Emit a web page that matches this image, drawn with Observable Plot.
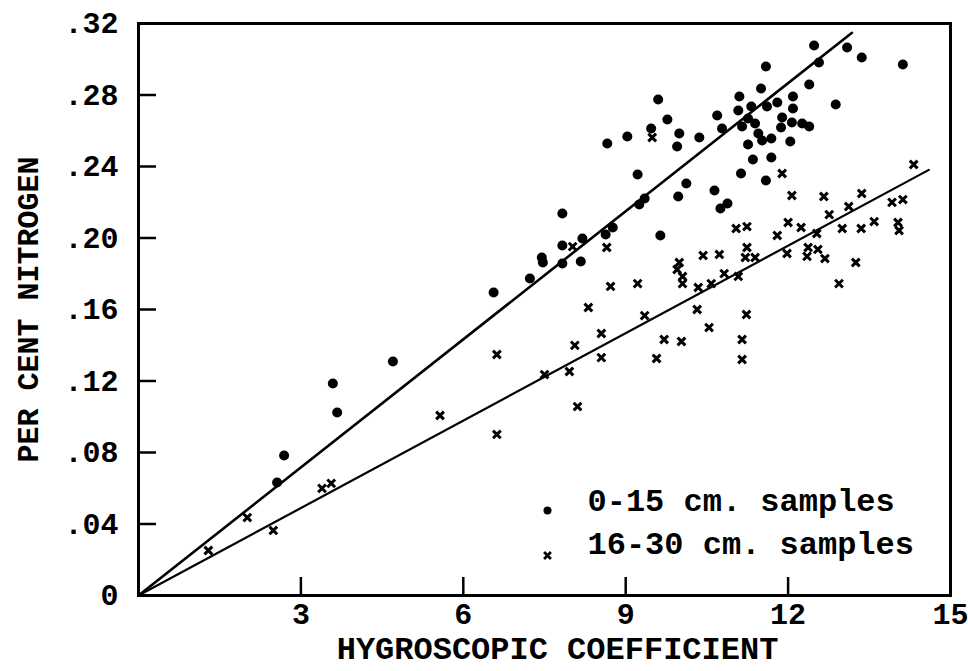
<!DOCTYPE html>
<html>
<head>
<meta charset="utf-8">
<script src="https://cdn.jsdelivr.net/npm/d3@7"></script>
<script src="https://cdn.jsdelivr.net/npm/@observablehq/plot@0.6"></script>
<style>
  html, body { margin: 0; padding: 0; background: #fff; }
  #chart { width: 968px; height: 671px; }
</style>
</head>
<body>
<div id="chart"></div>
<script>
// ---- data ----
const surfaceX = [12.48,13.09,13.36,14.12,12.57,11.59,12.39,11.50,11.10,12.09,12.88,9.60,11.08,11.32,11.61,11.80,12.09,10.69,9.77,11.89,11.26,11.15,11.39,11.87,12.07,12.26,12.39,9.47,9.99,10.78,9.03,10.36,9.95,8.66,11.45,11.52,11.69,11.26,12.04,11.69,11.35,11.13,11.59,9.22,10.12,10.64,9.97,10.88,10.75,7.83,9.25,9.35,8.76,8.63,9.64,8.20,7.83,7.45,7.83,8.17,7.47,7.23,6.56,4.70,3.59,3.67,2.69,2.56];
const surfaceY = [0.3077,0.3066,0.3010,0.2971,0.2982,0.2959,0.2859,0.2836,0.2792,0.2792,0.2747,0.2775,0.2713,0.2736,0.2736,0.2758,0.2724,0.2685,0.2663,0.2674,0.2669,0.2624,0.2641,0.2618,0.2646,0.2641,0.2624,0.2613,0.2585,0.2613,0.2568,0.2562,0.2512,0.2529,0.2585,0.2545,0.2557,0.2523,0.2540,0.2450,0.2439,0.2361,0.2322,0.2355,0.2305,0.2266,0.2232,0.2193,0.2165,0.2137,0.2187,0.2221,0.2059,0.2020,0.2014,0.1997,0.1958,0.1891,0.1857,0.1869,0.1863,0.1773,0.1695,0.1309,0.1186,0.1024,0.0783,0.0632];

const subsoilX = [11.89,14.32,12.07,12.66,13.36,13.92,14.12,12.76,13.12,11.04,11.24,12.00,12.24,11.80,12.53,13.00,13.35,13.59,14.03,14.05,11.24,12.37,12.55,10.43,10.73,11.21,11.39,11.98,12.35,12.68,13.25,9.99,9.95,10.05,10.05,8.72,9.22,10.34,10.58,10.82,11.08,12.94,8.31,9.35,8.55,8.06,8.55,7.96,7.50,8.11,10.32,10.54,9.71,10.03,9.57,11.23,11.15,11.15,8.02,8.65,9.49,6.62,6.62,5.57,3.39,3.56,2.01,2.49,1.29];
const subsoilY = [0.2361,0.2411,0.2238,0.2232,0.2249,0.2199,0.2215,0.2131,0.2176,0.2053,0.2064,0.2087,0.2059,0.2014,0.2025,0.2053,0.2053,0.2092,0.2087,0.2042,0.1947,0.1947,0.1936,0.1902,0.1908,0.1891,0.1891,0.1913,0.1897,0.1885,0.1863,0.1863,0.1824,0.1785,0.1745,0.1729,0.1745,0.1723,0.1745,0.1801,0.1785,0.1745,0.1611,0.1566,0.1466,0.1399,0.1331,0.1253,0.1236,0.1057,0.1600,0.1499,0.1432,0.1421,0.1326,0.1572,0.1432,0.1320,0.1952,0.1947,0.2562,0.1348,0.0901,0.1007,0.0599,0.0627,0.0436,0.0364,0.0252];

// fitted lines (end points)
const surfaceLineX = [0, 13.18];
const surfaceLineY = [0, 0.3148];
const subsoilLineX = [0, 14.6];
const subsoilLineY = [0, 0.2381];

const xTicks = [3, 6, 9, 12, 15];
const xTickLabels = ["3", "6", "9", "12", "15"];
const yTicks = [0, 0.04, 0.08, 0.12, 0.16, 0.20, 0.24, 0.28, 0.32];
const yTickLabels = ["0", ".04", ".08", ".12", ".16", ".20", ".24", ".28", ".32"];

const xLabel = "HYGROSCOPIC COEFFICIENT";
const yLabel = "PER CENT NITROGEN";
const legendLabels = ["0-15 cm. samples", "16-30 cm. samples"];

// ---- build tables ----
const surface = surfaceX.map((x, i) => ({x, y: surfaceY[i]}));
const subsoil = subsoilX.map((x, i) => ({x, y: subsoilY[i]}));
const surfaceLine = surfaceLineX.map((x, i) => ({x, y: surfaceLineY[i]}));
const subsoilLine = subsoilLineX.map((x, i) => ({x, y: subsoilLineY[i]}));

const W = 968, H = 671;
const mL = 138, mR = 18, mT = 23, mB = 76;
const innerW = W - mL - mR, innerH = H - mT - mB;
const font = "'Liberation Mono', 'DejaVu Sans Mono', monospace";
const tickLen = 18;

const chart = Plot.plot({
  width: W,
  height: H,
  marginLeft: mL,
  marginRight: mR,
  marginTop: mT,
  marginBottom: mB,
  style: {fontFamily: font, color: "#000", background: "#fff"},
  x: {domain: [0, 15]},
  y: {domain: [0, 0.32]},
  marks: [
    // inward ticks
    Plot.tickX(xTicks, {x: d => d, insetTop: innerH - tickLen, stroke: "#000", strokeWidth: 2.5}),
    Plot.tickY(yTicks.slice(1), {y: d => d, insetRight: innerW - tickLen, stroke: "#000", strokeWidth: 2.5}),
    // axes (labels only)
    Plot.axisX(xTicks, {
      tickSize: 0, tickPadding: 7, fontSize: 30, fontWeight: "bold",
      tickFormat: d => xTickLabels[xTicks.indexOf(d)], label: null
    }),
    Plot.axisY(yTicks, {
      tickSize: 0, tickPadding: 20, fontSize: 30, fontWeight: "bold",
      tickFormat: d => yTickLabels[yTicks.indexOf(d)], label: null
    }),
    // regression lines
    Plot.line(surfaceLine, {x: "x", y: "y", stroke: "#000", strokeWidth: 2.6}),
    Plot.line(subsoilLine, {x: "x", y: "y", stroke: "#000", strokeWidth: 2.2}),
    // points
    Plot.dot(surface, {x: "x", y: "y", r: 5, fill: "#000", stroke: "none"}),
    Plot.dot(subsoil, {x: "x", y: "y", r: 3.6, symbol: "times", stroke: "#000", strokeWidth: 3}),
    // frame
    Plot.frame({stroke: "#000", strokeWidth: 3}),
    // axis titles
    Plot.text([xLabel], {frameAnchor: "bottom", dx: 13, dy: 63, fontSize: 32, fontWeight: "bold", fill: "#000"}),
    Plot.text([yLabel], {frameAnchor: "left", dx: -110, rotate: -90, textAnchor: "middle", fontSize: 30, fontWeight: "bold", fill: "#000"}),
    // legend
    Plot.dot([legendLabels[0]], {frameAnchor: "bottom-left", dx: 409, dy: -85, r: 4, fill: "#000"}),
    Plot.dot([legendLabels[1]], {frameAnchor: "bottom-left", dx: 409, dy: -40, r: 3.2, symbol: "times", stroke: "#000", strokeWidth: 2.8}),
    Plot.text([legendLabels[0]], {frameAnchor: "bottom-left", dx: 449, dy: -85, textAnchor: "start", fontSize: 32, fontWeight: "bold", fill: "#000"}),
    Plot.text([legendLabels[1]], {frameAnchor: "bottom-left", dx: 449, dy: -42, textAnchor: "start", fontSize: 32, fontWeight: "bold", fill: "#000"})
  ]
});

document.getElementById("chart").appendChild(chart);
</script>
</body>
</html>
